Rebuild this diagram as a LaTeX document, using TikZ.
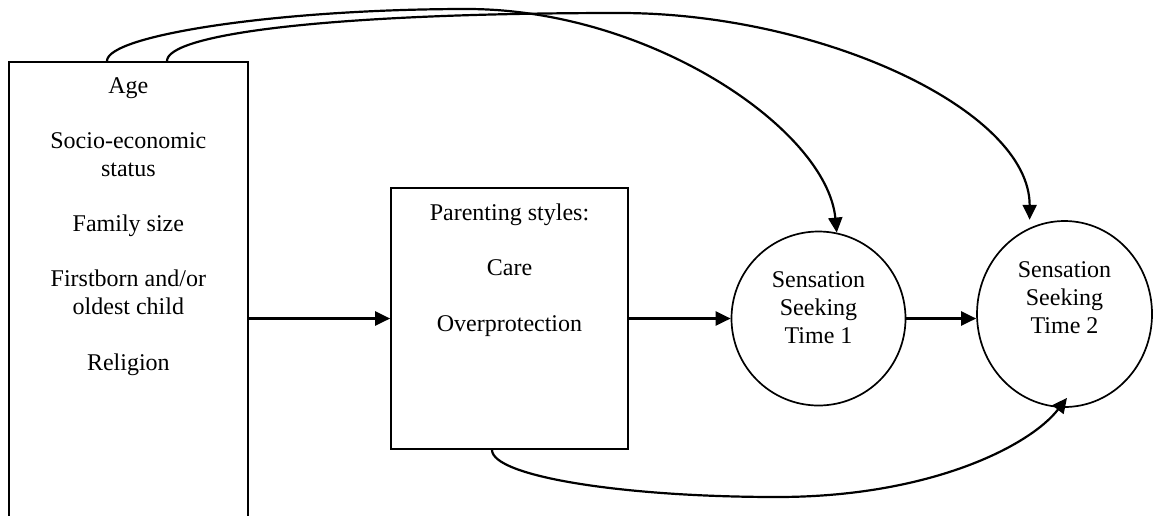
\documentclass[tikz,border=0pt]{standalone}
\usepackage{fontspec}
\setmainfont{Liberation Serif}
\usetikzlibrary{arrows.meta,shapes.geometric}

\begin{document}
\begin{tikzpicture}[x=1pt,y=-1pt,
  box/.style={draw,line width=1.7pt,inner sep=0pt},
  words/.style={align=center,inner sep=0pt,anchor=north,font=\fontsize{24}{27.7}\selectfont},
  link/.style={line width=2.2pt,-{Triangle[length=15pt,width=14pt]}}]
\useasboundingbox (0,0) rectangle (1153,515);
\node[box,minimum width=239pt,minimum height=480pt,anchor=north west] (factors) at (8,61) {};
\node[box,minimum width=237pt,minimum height=261pt] (parenting) at (509.5,318.5) {};
\node[box,circle,minimum size=174pt] (timeone) at (818.5,318.5) {};
\node[box,ellipse,minimum width=175pt,minimum height=186pt] (timetwo) at (1064.5,314) {};

\node[words] (factorlist) at ([yshift=-16pt]factors.north)
  {Age\\[27.7pt]Socio-economic\\status\\[27.7pt]Family size\\[27.7pt]Firstborn and/or\\oldest child\\[27.7pt]Religion};
\node[words] (stylelist) at ([yshift=-16.5pt]parenting.north)
  {Parenting styles:\\[27.7pt]Care\\[27.7pt]Overprotection};
\node[words] (timeonetext) at ([yshift=47pt]timeone.center) {Sensation\\Seeking\\Time 1};
\node[words] (timetwotext) at ([yshift=52.4pt]timetwo.center) {Sensation\\Seeking\\Time 2};

\draw[link] (factors.east |- parenting.west) -- (parenting.west);
\draw[link] (parenting.east) -- (parenting.east -| timeone.west);
\draw[link] (timeone.east) -- (timeone.east -| timetwo.west);

\coordinate (peakA) at (467,9);
\coordinate (peakB) at (620,13);
\coordinate (lowC) at (777,497);
\draw[link] ([xshift=99pt]factors.north west) .. controls +(0,-26) and +(-187,0) .. (peakA)
  .. controls +(183,0) and +(-10,-103) .. (timeone.78);
\draw[link,shorten >=8pt] ([xshift=159pt]factors.north west) .. controls +(0,-26) and +(-300,0) .. (peakB)
  .. controls +(200,0) and +(0,-118) .. (timetwo.112);
\draw[link] ([xshift=-17.5pt]parenting.south) .. controls +(0,26) and +(-157,0) .. (lowC)
  .. controls +(153,0) and +(-37,48) .. ([xshift=2.5pt,yshift=10pt]timetwo.south);
\end{tikzpicture}
\end{document}
